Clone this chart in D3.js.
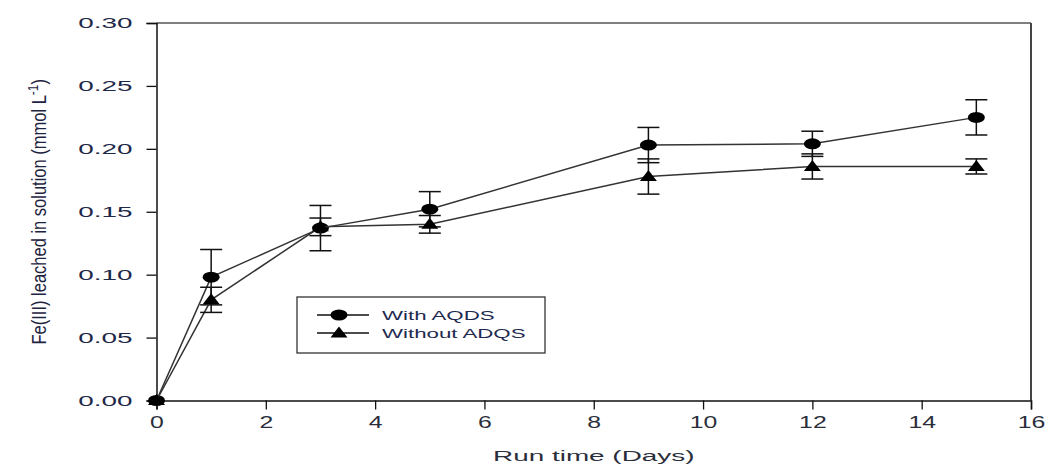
<!DOCTYPE html>
<html>
<head>
<meta charset="utf-8">
<script src="https://cdn.jsdelivr.net/npm/d3@7"></script>
<style>
  body { margin: 0; background: #fff; }
  text { font-family: "Liberation Sans", Arial, sans-serif; }
</style>
</head>
<body>
<div id="chart"></div>
<script>
// data
var days = [0, 1, 3, 5, 9, 12, 15];
var withAQDS = [0, 0.098, 0.137, 0.152, 0.203, 0.204, 0.225];
var withAQDSErr = [0, 0.022, 0.018, 0.014, 0.014, 0.010, 0.014];
var withoutADQS = [0, 0.080, 0.138, 0.140, 0.178, 0.186, 0.186];
var withoutADQSErr = [0, 0.010, 0.007, 0.007, 0.014, 0.010, 0.006];
var xTicks = [0, 2, 4, 6, 8, 10, 12, 14, 16];
var yTicks = [0, 0.05, 0.10, 0.15, 0.20, 0.25, 0.30];
var seriesNames = ["With AQDS", "Without ADQS"];

var svgWidth = 1045;
var svgHeight = 467;
var margin = { top: 23, right: 14, bottom: 66.5, left: 156.5 };
var width = svgWidth - margin.left - margin.right;
var height = svgHeight - margin.top - margin.bottom;

// the original is stretched sideways, so text gets a horizontal scale
var sx = 1.72;

var svg = d3.select("#chart")
  .append("svg")
  .attr("width", svgWidth)
  .attr("height", svgHeight);

var chartGroup = svg.append("g")
  .attr("transform", `translate(${margin.left}, ${margin.top})`);

var xScale = d3.scaleLinear().domain([0, 16]).range([0, width]);
var yScale = d3.scaleLinear().domain([0, 0.30]).range([height, 0]);

// frame: top and right edges
chartGroup.append("line")
  .attr("x1", 0).attr("x2", width).attr("y1", 0).attr("y2", 0)
  .attr("stroke", "#555").attr("stroke-width", 1.5);
chartGroup.append("line")
  .attr("x1", width).attr("x2", width).attr("y1", 0).attr("y2", height)
  .attr("stroke", "#444").attr("stroke-width", 2);

// axes
var bottomAxis = d3.axisBottom(xScale).tickValues(xTicks).tickSize(9).tickPadding(7)
  .tickFormat(d3.format("d"));
var leftAxis = d3.axisLeft(yScale).tickValues(yTicks).tickSize(10).tickPadding(14)
  .tickFormat(d3.format(".2f"));

var xg = chartGroup.append("g")
  .attr("transform", `translate(0, ${height})`)
  .call(bottomAxis);
var yg = chartGroup.append("g").call(leftAxis);

[xg, yg].forEach(function(g) {
  g.select(".domain").attr("stroke", "#111").attr("stroke-width", 1.5);
  g.selectAll(".tick line").attr("stroke", "#111").attr("stroke-width", 1.3);
});

xg.selectAll(".tick text")
  .attr("font-size", 16)
  .attr("fill", "#2a2e3a")
  .attr("transform", "scale(1.55,1)");

yg.selectAll(".tick text")
  .attr("font-size", 15.5)
  .attr("fill", "#1e2848")
  .attr("x", -24 / 1.8)
  .attr("transform", "scale(1.8,1)");

// axis titles
svg.append("text")
  .attr("transform", `translate(${margin.left + width / 2}, 461) scale(1.8,1)`)
  .attr("text-anchor", "middle")
  .attr("font-size", 15.5)
  .attr("fill", "#2a2e3a")
  .text("Run time (Days)");

var yLabel = svg.append("text")
  .attr("transform", `translate(46, ${margin.top + height / 2}) scale(1.2,1) rotate(-90)`)
  .attr("text-anchor", "middle")
  .attr("font-size", 16.5)
  .attr("fill", "#1e2440");
yLabel.append("tspan").text("Fe(III) leached in solution (mmol L");
yLabel.append("tspan").attr("font-size", 12).attr("dy", -7).text("-1");
yLabel.append("tspan").attr("dy", 7).text(")");

// series
var series = [
  { name: seriesNames[0], values: withAQDS, errs: withAQDSErr, shape: "circle" },
  { name: seriesNames[1], values: withoutADQS, errs: withoutADQSErr, shape: "triangle" }
];

var line = d3.line()
  .x(d => xScale(d.x))
  .y(d => yScale(d.y));

var triPath = "M0,-6.5L8.5,4.5L-8.5,4.5Z";

function drawMarker(g, shape) {
  if (shape === "circle") {
    g.append("ellipse").attr("rx", 8.5).attr("ry", 5.5).attr("fill", "#000");
  } else {
    g.append("path").attr("d", triPath).attr("fill", "#000");
  }
}

series.forEach(function(s) {
  var pts = days.map((d, i) => ({ x: d, y: s.values[i], e: s.errs[i] }));

  chartGroup.append("path")
    .datum(pts)
    .attr("d", line)
    .attr("fill", "none")
    .attr("stroke", "#333")
    .attr("stroke-width", 1.5);

  var err = chartGroup.append("g");
  pts.filter(p => p.e > 0).forEach(function(p) {
    var cx = xScale(p.x);
    var y1 = yScale(p.y + p.e);
    var y2 = yScale(p.y - p.e);
    err.append("line").attr("x1", cx).attr("x2", cx).attr("y1", y1).attr("y2", y2)
      .attr("stroke", "#111").attr("stroke-width", 1.5);
    [y1, y2].forEach(function(yy) {
      err.append("line").attr("x1", cx - 11).attr("x2", cx + 11).attr("y1", yy).attr("y2", yy)
        .attr("stroke", "#111").attr("stroke-width", 1.5);
    });
  });

  pts.forEach(function(p) {
    var m = chartGroup.append("g")
      .attr("transform", `translate(${xScale(p.x)}, ${yScale(p.y)})`);
    drawMarker(m, s.shape);
  });
});

// legend
var legend = svg.append("g").attr("transform", "translate(297, 297)");
legend.append("rect")
  .attr("width", 248).attr("height", 56)
  .attr("fill", "#fff").attr("stroke", "#333").attr("stroke-width", 1.3);

series.forEach(function(s, i) {
  var row = legend.append("g").attr("transform", `translate(0, ${18 + i * 18})`);
  row.append("line").attr("x1", 20).attr("x2", 72).attr("y1", 0).attr("y2", 0)
    .attr("stroke", "#111").attr("stroke-width", 1.3);
  var m = row.append("g").attr("transform", "translate(42, 0)");
  drawMarker(m, s.shape);
  row.append("text")
    .attr("transform", "translate(85, 5) scale(1.65,1)")
    .attr("font-size", 13.5)
    .attr("fill", "#1e2a50")
    .text(s.name);
});
</script>
</body>
</html>
